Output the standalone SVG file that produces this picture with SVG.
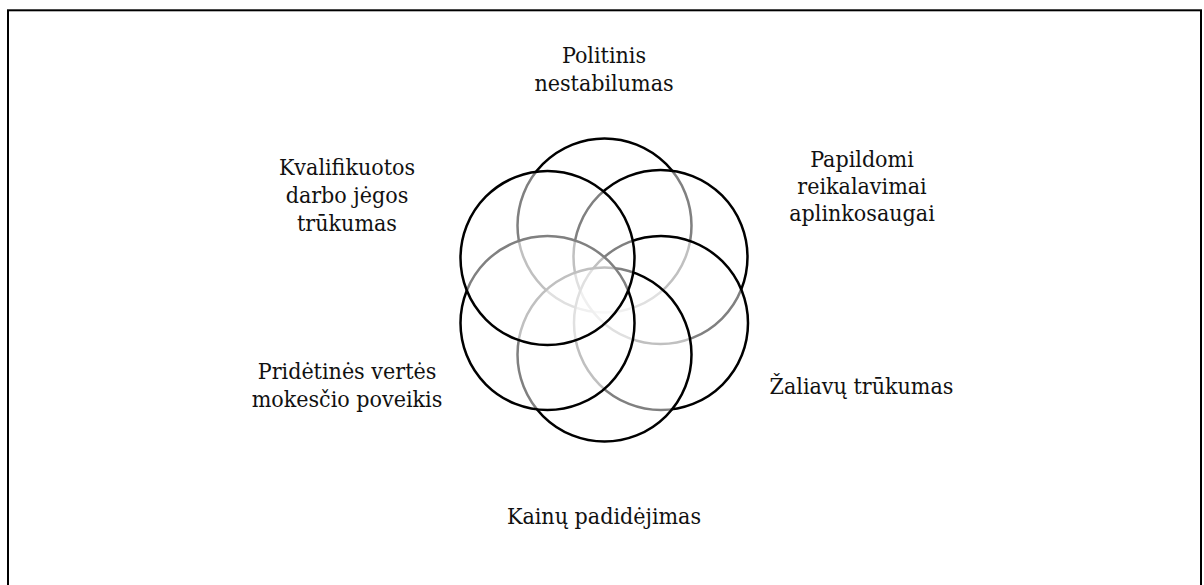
<svg xmlns="http://www.w3.org/2000/svg" width="1204" height="585" viewBox="0 0 1204 585">
  <style>
    .frame { fill: none; stroke: #000; stroke-width: 2; }
    .ring { fill: #fff; fill-opacity: 0.5; stroke: #000; stroke-width: 2.5; }
    .label { font-family: 'DejaVu Serif Condensed', 'DejaVu Serif', serif; font-stretch: condensed; font-size: 23px; fill: #111; text-anchor: middle; }
  </style>
  <rect class="frame" x="8" y="10.3" width="1193" height="600"/>

  <!-- overlapping circles, painted clockwise from the top -->
  <g id="circles">
    <circle id="c-top" class="ring" cx="604.5" cy="225.5" r="87"/>
    <circle id="c-upper-right" class="ring" cx="660.5" cy="257" r="87"/>
    <circle id="c-lower-right" class="ring" cx="661" cy="323" r="87"/>
    <circle id="c-bottom" class="ring" cx="604.5" cy="354.5" r="87"/>
    <circle id="c-lower-left" class="ring" cx="547.5" cy="323" r="87"/>
    <circle id="c-upper-left" class="ring" cx="547.5" cy="258" r="87"/>
  </g>

  <g id="connectors"/>

  <g>
    <g id="n-politinis">
      <text class="label" x="604" y="63">Politinis</text>
      <text class="label" x="604" y="90.5">nestabilumas</text>
    </g>
    <g id="n-aplinkosauga">
      <text class="label" x="862" y="166.5">Papildomi</text>
      <text class="label" x="862" y="194">reikalavimai</text>
      <text class="label" x="862" y="220.5">aplinkosaugai</text>
    </g>
    <g id="n-zaliavos">
      <text class="label" x="861.5" y="394">Žaliavų trūkumas</text>
    </g>
    <g id="n-kainos">
      <text class="label" x="604" y="523.5">Kainų padidėjimas</text>
    </g>
    <g id="n-pvm">
      <text class="label" x="347" y="379">Pridėtinės vertės</text>
      <text class="label" x="347" y="406.5">mokesčio poveikis</text>
    </g>
    <g id="n-darbo-jega">
      <text class="label" x="347" y="175">Kvalifikuotos</text>
      <text class="label" x="347" y="203">darbo jėgos</text>
      <text class="label" x="347" y="230.5">trūkumas</text>
    </g>
  </g>
</svg>
